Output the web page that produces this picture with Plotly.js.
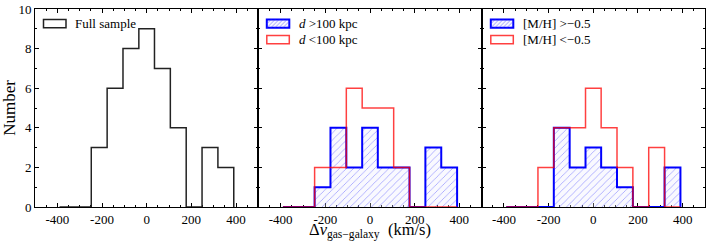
<!DOCTYPE html>
<html>
<head>
<meta charset="utf-8">
<script src="https://cdn.plot.ly/plotly-3.0.1.min.js"></script>
<style>html,body{margin:0;padding:0;background:#fff;}#chart{width:709px;height:242px;}</style>
</head>
<body>
<div id="chart"></div>
<script>
// Bin edges (km/s) shared by all histograms
const binEdges = [-390, -319, -248, -177, -106, -35, 35, 106, 177, 248, 319, 390];
// Counts per bin
const fullCounts   = [0, 0, 3, 6, 8, 9, 7, 4, 0, 3, 2];
const farCounts    = [0, 0, 1, 4, 2, 4, 2, 2, 0, 3, 2];   // d > 100 kpc
const nearCounts   = [0, 0, 2, 2, 6, 5, 5, 2, 0, 0, 0];   // d < 100 kpc
const richCounts   = [0, 0, 0, 4, 2, 3, 2, 1, 0, 0, 2];   // [M/H] > -0.5
const poorCounts   = [0, 0, 2, 4, 4, 6, 4, 2, 0, 3, 0];   // [M/H] < -0.5
const legendLabels = [
  ["Full sample"],
  ["<i>d</i> &gt;100 kpc", "<i>d</i> &lt;100 kpc"],
  ["[M/H] &gt;\u22120.5", "[M/H] &lt;\u22120.5"]
];
const xTitle = "\u0394<i>v</i><sub>gas\u2212galaxy</sub>\u2002(km/s)";
const xTickVals = [-400, -200, 0, 200, 400];
const xTickText = ["-400", "-200", "0", "200", "400"];
const yTickVals = [0, 2, 4, 6, 8, 10];
const yTickText = ["0", "2", "4", "6", "8", "10"];

const FONT = "'Liberation Serif', 'Times New Roman', serif";
const BLUE = "#0000ff", RED = "rgba(255,0,0,0.75)", BLACK = "#222";

function stepXY(counts) {
  const x = [binEdges[0]].concat(binEdges);
  const y = [0].concat(counts).concat([0]);
  return {x, y};
}
function stepTrace(counts, xa, ya, color, width, hatched) {
  const s = stepXY(counts);
  const t = {type: "scatter", mode: "lines", x: s.x, y: s.y, xaxis: xa, yaxis: ya,
    line: {shape: "hv", color: color, width: width}, showlegend: false, hoverinfo: "skip"};
  if (hatched) {
    t.fill = "tozeroy";
    t.fillcolor = "rgba(0,0,0,0)";
    t.fillpattern = {shape: "/", fgcolor: "rgba(60,60,255,0.5)", bgcolor: "rgba(235,235,255,0.3)", size: 5, solidity: 0.15};
  }
  return t;
}

const traces = [
  stepTrace(fullCounts, "x", "y", BLACK, 1.5, false),
  stepTrace(farCounts, "x2", "y2", BLUE, 2, true),
  stepTrace(nearCounts, "x2", "y2", RED, 1.5, false),
  stepTrace(richCounts, "x3", "y3", BLUE, 2, true),
  stepTrace(poorCounts, "x3", "y3", RED, 1.5, false)
];

// plot-area pixel geometry for legend placement
const L = 35, R = 705, T = 9, B = 207;
const px = v => (v - L) / (R - L);
const py = v => (B - v) / (B - T);

const shapes = [], annotations = [];
function legendBox(x0, y0, color, hatched) {
  const x1 = x0 + 22.5, y1 = y0 + 8.3;
  shapes.push({type: "rect", xref: "paper", yref: "paper", x0: px(x0), x1: px(x1), y0: py(y1), y1: py(y0),
    line: {color: color, width: hatched ? 2 : 1.5}, fillcolor: hatched ? "rgba(235,235,255,0.5)" : "rgba(0,0,0,0)", layer: "above"});
  if (hatched) {
    let d = "";
    for (let s = x0 - 8; s < x1; s += 4) {
      let ax = s, ay = y1, bx = s + 8.3, by = y0;
      if (ax < x0) { ay = y1 - (x0 - ax); ax = x0; }
      if (bx > x1) { by = y0 + (bx - x1); bx = x1; }
      if (ax >= bx) continue;
      d += "M" + px(ax) + "," + py(ay) + "L" + px(bx) + "," + py(by);
    }
    shapes.push({type: "path", xref: "paper", yref: "paper", path: d, line: {color: "rgba(60,60,255,0.55)", width: 0.8}, layer: "above"});
  }
}
function legendText(x, yc, text) {
  annotations.push({xref: "paper", yref: "paper", x: px(x), y: py(yc), xanchor: "left", yanchor: "middle",
    text: text, showarrow: false, font: {family: FONT, size: 13, color: "#000"}});
}
legendBox(43.5, 19.5, BLACK, false); legendText(72.5, 23.5, legendLabels[0][0]);
legendBox(266.8, 19.5, BLUE, true);  legendText(296.5, 23.5, legendLabels[1][0]);
legendBox(266.8, 35.5, RED, false);  legendText(296.5, 39.5, legendLabels[1][1]);
legendBox(490.8, 19.5, BLUE, true);  legendText(520.5, 23.5, legendLabels[2][0]);
legendBox(490.8, 35.5, RED, false);  legendText(520.5, 39.5, legendLabels[2][1]);

// x-axis title centred under the middle panel
annotations.push({xref: "paper", yref: "paper", x: 0.5, y: py(231), xanchor: "center", yanchor: "middle",
  text: xTitle, showarrow: false, font: {family: FONT, size: 16.5, color: "#000"}});

function xAxis(domain, anchor) {
  return {domain: domain, anchor: anchor, range: [-500, 500], tickmode: "array", tickvals: xTickVals, ticktext: xTickText,
    ticks: "inside", ticklen: 4, tickwidth: 1, tickcolor: "#000", mirror: "ticks",
    showline: true, linecolor: "#000", linewidth: 1, showgrid: false, zeroline: false,
    layer: "below traces", tickfont: {family: FONT, size: 13, color: "#000"},
    minor: {dtick: 50, tick0: 0, ticks: "inside", ticklen: 2, tickcolor: "#000", showgrid: false}};
}
function yAxis(anchor, labels, title) {
  const a = {domain: [0, 1], anchor: anchor, range: [0, 10], tickmode: "array", tickvals: yTickVals, ticktext: yTickText,
    ticks: "inside", ticklen: 4, tickwidth: 1, tickcolor: "#000", mirror: "ticks",
    showline: true, linecolor: "#000", linewidth: 1, showgrid: false, zeroline: false,
    layer: "below traces", showticklabels: labels, tickfont: {family: FONT, size: 13, color: "#000"},
    minor: {dtick: 1, ticks: "inside", ticklen: 2, tickcolor: "#000", showgrid: false}};
  if (title) a.title = {text: title, font: {family: FONT, size: 17, color: "#000"}, standoff: 5};
  return a;
}

const layout = {
  width: 709, height: 242,
  margin: {l: 35, r: 4, t: 9, b: 35},
  paper_bgcolor: "#fff", plot_bgcolor: "#fff",
  showlegend: false,
  xaxis: xAxis([0, 1/3], "y"),
  xaxis2: xAxis([1/3, 2/3], "y2"),
  xaxis3: xAxis([2/3, 1], "y3"),
  yaxis: yAxis("x", true, "Number"),
  yaxis2: yAxis("x2", false, null),
  yaxis3: yAxis("x3", false, null),
  shapes: shapes, annotations: annotations
};

Plotly.newPlot("chart", traces, layout, {staticPlot: true, displayModeBar: false});
</script>
</body>
</html>
